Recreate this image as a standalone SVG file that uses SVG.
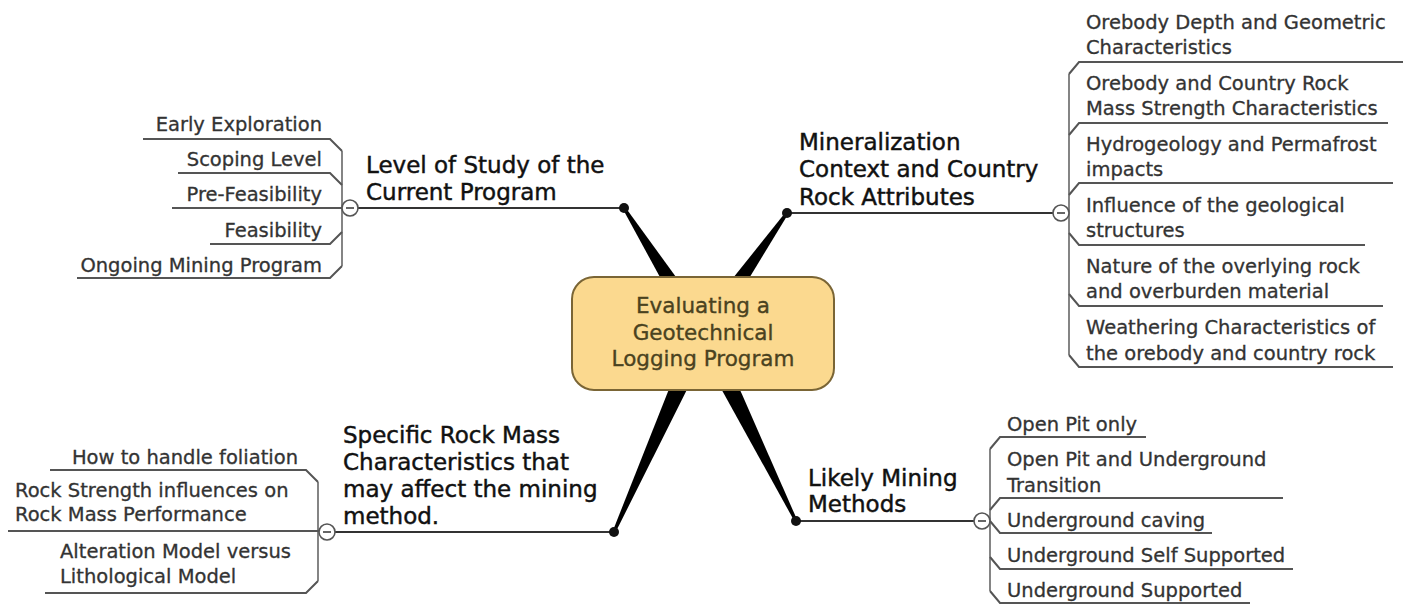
<svg xmlns="http://www.w3.org/2000/svg" width="1403" height="605" viewBox="0 0 1403 605">
<style>
text{font-family:"DejaVu Sans","Verdana",sans-serif}
.main{font-size:23px;fill:#111;stroke:#111;stroke-width:0.45}
.child{font-size:19.5px;fill:#333;stroke:#333;stroke-width:0.3}
.center{font-size:21.5px;fill:#4a4220;stroke:#4a4220;stroke-width:0.35;text-anchor:middle}
.end{text-anchor:end}
.branch{stroke:#333;stroke-width:2;fill:none}
.ul{stroke:#555;stroke-width:2;fill:none}
.brk{stroke:#666;stroke-width:1.6;fill:none}
.wedge{fill:#000}
.dot{fill:#111}
.tog{fill:#fff;stroke:#555;stroke-width:1.6}
.minus{stroke:#555;stroke-width:1.8}
</style>
<rect width="1403" height="605" fill="#fff"/>
<g id="connectors">
<polygon class="wedge" points="622.7,208.8 625.3,207.2 712.3,327.1 693.7,338.9"/>
<polygon class="wedge" points="788.2,213.9 785.8,212.1 694.0,326.7 712.0,339.3"/>
<polygon class="wedge" points="615.4,532.6 612.6,531.4 693.0,328.5 713.0,337.5"/>
<polygon class="wedge" points="797.3,520.3 794.7,521.7 693.1,337.9 712.9,328.1"/>
<line class="branch" x1="358" y1="208" x2="624" y2="208"/>
<line class="branch" x1="787" y1="213" x2="1053" y2="213"/>
<line class="branch" x1="335" y1="532" x2="614" y2="532"/>
<line class="branch" x1="796" y1="521" x2="974" y2="521"/>
<circle class="dot" cx="624" cy="208" r="5"/>
<circle class="dot" cx="787" cy="213" r="5"/>
<circle class="dot" cx="614" cy="532" r="5"/>
<circle class="dot" cx="796" cy="521" r="5"/>
</g>
<g id="center">
<rect x="572" y="277" width="262" height="113" rx="22" fill="#fbd98f" stroke="#7a6535" stroke-width="2"/>
<text class="center" x="703" y="313">Evaluating a</text>
<text class="center" x="703" y="340">Geotechnical</text>
<text class="center" x="703" y="366">Logging Program</text>
</g>
<g id="level-of-study">
<text class="main" x="366" y="173">Level of Study of the</text>
<text class="main" x="366" y="200">Current Program</text>
<path class="brk" d="M342,151 V266"/>
<circle class="tog" cx="350" cy="208" r="8"/>
<line class="minus" x1="346" y1="208" x2="354" y2="208"/>
</g>
<g id="early-exploration"><text class="child end" x="322" y="131">Early Exploration</text><path class="ul" d="M143,139 H330 L342,151"/></g>
<g id="scoping-level"><text class="child end" x="322" y="166">Scoping Level</text><path class="ul" d="M178,173 H330 L342,185"/></g>
<g id="pre-feasibility"><text class="child end" x="322" y="201">Pre-Feasibility</text><path class="ul" d="M172,208 H342"/></g>
<g id="feasibility"><text class="child end" x="322" y="237">Feasibility</text><path class="ul" d="M210,244 H330 L342,232"/></g>
<g id="ongoing"><text class="child end" x="322" y="272">Ongoing Mining Program</text><path class="ul" d="M77,278 H330 L342,266"/></g>

<g id="mineralization">
<text class="main" x="799" y="150">Mineralization</text>
<text class="main" x="799" y="177">Context and Country</text>
<text class="main" x="799" y="205">Rock Attributes</text>
<path class="brk" d="M1069,74 V355"/>
<circle class="tog" cx="1061" cy="213" r="8"/>
<line class="minus" x1="1057" y1="213" x2="1065" y2="213"/>
</g>
<g id="orebody-depth"><text class="child" x="1086" y="29">Orebody Depth and Geometric</text><text class="child" x="1086" y="54">Characteristics</text><path class="ul" d="M1069,74 L1079,62 H1403"/></g>
<g id="orebody-strength"><text class="child" x="1086" y="90">Orebody and Country Rock</text><text class="child" x="1086" y="115">Mass Strength Characteristics</text><path class="ul" d="M1069,135 L1079,123 H1388"/></g>
<g id="hydrogeology"><text class="child" x="1086" y="151">Hydrogeology and Permafrost</text><text class="child" x="1086" y="176">impacts</text><path class="ul" d="M1069,195 L1079,183 H1393"/></g>
<g id="influence"><text class="child" x="1086" y="212">Influence of the geological</text><text class="child" x="1086" y="237">structures</text><path class="ul" d="M1069,233 L1079,245 H1365"/></g>
<g id="nature"><text class="child" x="1086" y="273">Nature of the overlying rock</text><text class="child" x="1086" y="298">and overburden material</text><path class="ul" d="M1069,294 L1079,306 H1383"/></g>
<g id="weathering"><text class="child" x="1086" y="334">Weathering Characteristics of</text><text class="child" x="1086" y="360">the orebody and country rock</text><path class="ul" d="M1069,355 L1079,367 H1393"/></g>

<g id="specific-rock-mass">
<text class="main" x="343" y="443">Specific Rock Mass</text>
<text class="main" x="343" y="470">Characteristics that</text>
<text class="main" x="343" y="497">may affect the mining</text>
<text class="main" x="343" y="524">method.</text>
<path class="brk" d="M318,482 V581"/>
<circle class="tog" cx="327" cy="532" r="8"/>
<line class="minus" x1="323" y1="532" x2="331" y2="532"/>
</g>
<g id="foliation"><text class="child end" x="298" y="464">How to handle foliation</text><path class="ul" d="M50,470 H306 L318,482"/></g>
<g id="rock-strength"><text class="child" x="15" y="497">Rock Strength influences on</text><text class="child" x="15" y="521">Rock Mass Performance</text><path class="ul" d="M8,531 H319"/></g>
<g id="alteration"><text class="child" x="60" y="558">Alteration Model versus</text><text class="child" x="60" y="583">Lithological Model</text><path class="ul" d="M45,593 H306 L318,581"/></g>

<g id="likely-mining">
<text class="main" x="808" y="486">Likely Mining</text>
<text class="main" x="808" y="512">Methods</text>
<path class="brk" d="M990,449 V591"/>
<circle class="tog" cx="982" cy="521" r="8"/>
<line class="minus" x1="978" y1="521" x2="986" y2="521"/>
</g>
<g id="open-pit"><text class="child" x="1007" y="431">Open Pit only</text><path class="ul" d="M990,449 L1000,437 H1146"/></g>
<g id="transition"><text class="child" x="1007" y="466">Open Pit and Underground</text><text class="child" x="1007" y="492">Transition</text><path class="ul" d="M990,510 L1000,498 H1283"/></g>
<g id="caving"><text class="child" x="1007" y="527">Underground caving</text><path class="ul" d="M990,521 L1000,533 H1212"/></g>
<g id="self-supported"><text class="child" x="1007" y="562">Underground Self Supported</text><path class="ul" d="M990,557 L1000,569 H1293"/></g>
<g id="supported"><text class="child" x="1007" y="597">Underground Supported</text><path class="ul" d="M990,591 L1000,603 H1250"/></g>
</svg>
